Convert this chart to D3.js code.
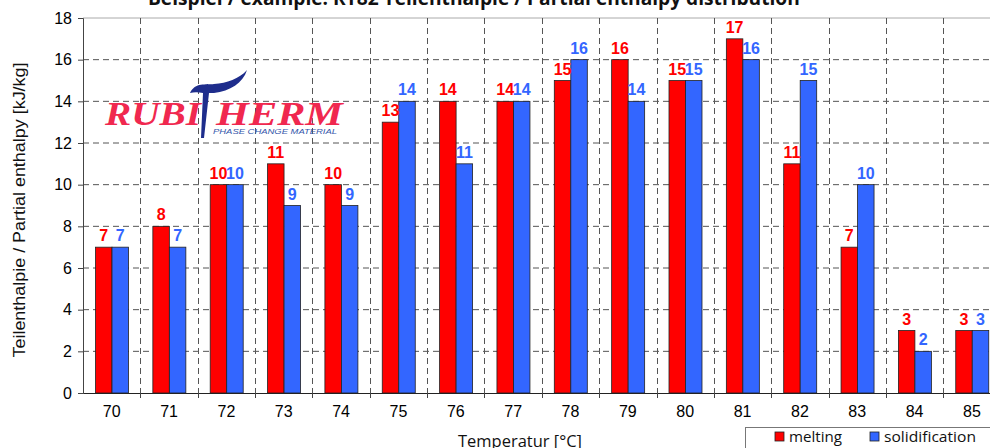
<!DOCTYPE html>
<html><head><meta charset="utf-8">
<script src="https://cdn.jsdelivr.net/npm/d3@7"></script>
<style>body{margin:0;background:#fff;overflow:hidden}svg{display:block}</style>
</head><body>
<svg id="c" width="990" height="448"></svg>
<script>
const categories = ["70","71","72","73","74","75","76","77","78","79","80","81","82","83","84","85"];
const melting = [7,8,10,11,10,13,14,14,15,16,15,17,11,7,3,3];
const solidification = [7,7,10,9,9,14,11,14,16,14,15,16,15,10,2,3];
const seriesNames = ["melting","solidification"];
const yTicks = [0,2,4,6,8,10,12,14,16,18];
const colors = {melting:"#FF0000", solidification:"#3366FF"};

const svg = d3.select("#c");
const L = 83, T = 18, B = 393, step = 57.35;
const x = d3.scaleBand().domain(categories).range([L, L + step*categories.length]).padding(0);
const xs = d3.scaleBand().domain(seriesNames).range([12.5, 45.5]).padding(0);
const y = d3.scaleLinear().domain([0,18]).range([B, T]);

// horizontal grid
svg.append("g").selectAll("line").data(yTicks.filter(d=>d>0 && d<18)).join("line")
  .attr("x1", L).attr("x2", 990).attr("y1", d=>y(d)).attr("y2", d=>y(d))
  .attr("stroke", "#555").attr("stroke-width", 1).attr("stroke-dasharray", "6,4");
// top line
svg.append("line").attr("x1", L).attr("x2", 990).attr("y1", y(18)).attr("y2", y(18))
  .attr("stroke", "#aaa").attr("stroke-width", 1);
// vertical grid
svg.append("g").selectAll("line").data(categories.slice(1)).join("line")
  .attr("x1", d=>Math.round(x(d))+0.5).attr("x2", d=>Math.round(x(d))+0.5)
  .attr("y1", T).attr("y2", B)
  .attr("stroke", "#555").attr("stroke-width", 1).attr("stroke-dasharray", "6,4");

// logo
const logo = svg.append("g");
logo.append("text").attr("x", 105).attr("y", 125).text("RUBI")
  .attr("font-family", "Liberation Serif, serif").attr("font-weight", "bold").attr("font-style", "italic")
  .attr("font-size", 34).attr("fill", "#F0284F").attr("textLength", 96).attr("lengthAdjust", "spacingAndGlyphs");
logo.append("text").attr("x", 216).attr("y", 125).text("HERM")
  .attr("font-family", "Liberation Serif, serif").attr("font-weight", "bold").attr("font-style", "italic")
  .attr("font-size", 34).attr("fill", "#F0284F").attr("textLength", 127).attr("lengthAdjust", "spacingAndGlyphs");
logo.append("text").attr("x", 213).attr("y", 134).text("PHASE CHANGE MATERIAL")
  .attr("font-family", "Liberation Sans, Arial, sans-serif").attr("font-style", "italic")
  .attr("font-size", 8).attr("fill", "#3355AA").attr("textLength", 124).attr("lengthAdjust", "spacingAndGlyphs");
logo.append("path")
  .attr("d", "M190,93 C195,82 206,85 214,84 C227,83 239,79 247,70 C243,83 230,91 214,93 L209,93 L204,138 L201,138 L203,93 C198,92 194,92 190,93 Z")
  .attr("fill", "#1E2D8C");

// bars
const groups = svg.append("g").selectAll("g").data(categories).join("g")
  .attr("transform", d=>`translate(${x(d)},0)`);
const rows = (d,i) => seriesNames.map(s => ({s, v: s==="melting" ? melting[i] : solidification[i]}));
groups.selectAll("rect").data((d,i)=>rows(d,i)).join("rect")
  .attr("x", d=>xs(d.s)).attr("width", xs.bandwidth())
  .attr("y", d=>y(d.v)).attr("height", d=>B - y(d.v))
  .attr("fill", d=>colors[d.s]).attr("stroke", "#222").attr("stroke-width", 0.8);
groups.selectAll("text").data((d,i)=>rows(d,i)).join("text")
  .attr("x", d=>xs(d.s) + xs.bandwidth()/2).attr("y", d=>y(d.v) - 6)
  .attr("text-anchor", "middle").attr("font-family", "Liberation Sans, Arial, sans-serif")
  .attr("font-weight", "bold").attr("font-size", 16).attr("fill", d=>colors[d.s]).text(d=>d.v);

// axes
const yAxis = svg.append("g").attr("transform", `translate(${L},0)`)
  .call(d3.axisLeft(y).tickValues(yTicks).tickSize(5).tickPadding(6));
yAxis.select(".domain").attr("stroke", "#444");
yAxis.selectAll(".tick line").attr("stroke", "#444");
yAxis.selectAll("text").attr("font-family", "Liberation Sans, Arial, sans-serif").attr("font-size", 16).attr("fill", "#000");

const xAxis = svg.append("g").attr("transform", `translate(0,${B})`)
  .call(d3.axisBottom(x).tickSize(0).tickPadding(13));
xAxis.select(".domain").attr("stroke", "#222");
xAxis.selectAll("text").attr("font-family", "Liberation Sans, Arial, sans-serif").attr("font-size", 16).attr("fill", "#000");
svg.append("g").selectAll("line").data(categories.slice(1)).join("line")
  .attr("x1", d=>Math.round(x(d))+0.5).attr("x2", d=>Math.round(x(d))+0.5)
  .attr("y1", B).attr("y2", B+5).attr("stroke", "#444");

// titles
svg.append("text").attr("x", 148).attr("y", 5).text("Beispiel / example: RT82 Teilenthalpie / Partial enthalpy distribution ¹")
  .attr("font-family", "Open Sans, sans-serif").attr("font-weight", "bold").attr("font-size", 20)
  .attr("fill", "#111").attr("textLength", 664).attr("lengthAdjust", "spacingAndGlyphs");
svg.append("text").attr("transform", "translate(25,210) rotate(-90)").attr("text-anchor", "middle")
  .text("Teilenthalpie / Partial enthalpy [kJ/kg]")
  .attr("font-family", "Liberation Sans, Arial, sans-serif").attr("font-size", 16).attr("fill", "#111")
  .attr("textLength", 295).attr("lengthAdjust", "spacingAndGlyphs");
svg.append("text").attr("x", 520).attr("y", 447).attr("text-anchor", "middle").text("Temperatur [°C]")
  .attr("font-family", "Open Sans, sans-serif").attr("font-size", 16).attr("fill", "#111")
  .attr("textLength", 124).attr("lengthAdjust", "spacingAndGlyphs");

// legend
const lg = svg.append("g");
lg.append("rect").attr("x", 745.5).attr("y", 427.5).attr("width", 260).attr("height", 40)
  .attr("fill", "#fff").attr("stroke", "#777");
const items = [{s:"melting", x:775}, {s:"solidification", x:870}];
items.forEach(it => {
  lg.append("rect").attr("x", it.x).attr("y", 432).attr("width", 9).attr("height", 9)
    .attr("fill", colors[it.s]).attr("stroke", "#222").attr("stroke-width", 0.8);
  lg.append("text").attr("x", it.x + 14).attr("y", 442).text(it.s)
    .attr("font-family", "Open Sans, sans-serif").attr("font-size", 15).attr("fill", "#111")
    .attr("textLength", it.s==="melting" ? 53 : 92).attr("lengthAdjust", "spacingAndGlyphs");
});
</script>
</body></html>
